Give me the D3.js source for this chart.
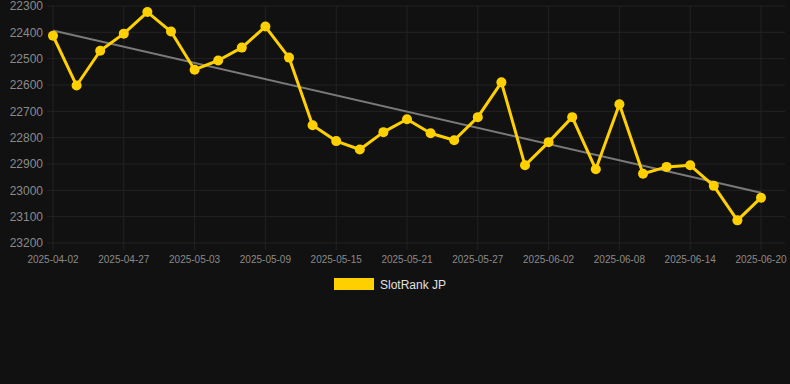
<!DOCTYPE html>
<html>
<head>
    <script src="https://d3js.org/d3.v7.min.js"></script>
    <style>
        body { margin: 0; background: #111111; }
        svg { display: block; font-family: "Liberation Sans", Arial, sans-serif; }
    </style>
</head>
<body>
    <div id="chart"></div>
    <script>
        // every other day from late April, labels shown on every 3rd point
        const dates = [
            '2025-04-02', '2025-04-23', '2025-04-25', '2025-04-27', '2025-04-29', '2025-05-01',
            '2025-05-03', '2025-05-05', '2025-05-07', '2025-05-09', '2025-05-11', '2025-05-13',
            '2025-05-15', '2025-05-17', '2025-05-19', '2025-05-21', '2025-05-23', '2025-05-25',
            '2025-05-27', '2025-05-29', '2025-05-31', '2025-06-02', '2025-06-04', '2025-06-06',
            '2025-06-08', '2025-06-10', '2025-06-12', '2025-06-14', '2025-06-16', '2025-06-18',
            '2025-06-20'
        ];
        const ranks = [
            22413, 22602, 22470, 22405, 22323, 22397, 22542, 22507, 22458, 22378, 22496,
            22753, 22813, 22845, 22779, 22730, 22783, 22810, 22722, 22590, 22905,
            22817, 22722, 22920, 22673, 22937, 22911, 22905, 22983, 23114, 23028
        ];
        const yTicks = [22300, 22400, 22500, 22600, 22700, 22800, 22900, 23000, 23100, 23200];
        const seriesName = 'SlotRank JP';

        const width = 790, height = 384;
        const plot = { left: 47, right: 785, top: 6, bottom: 243 };

        const svg = d3.select('#chart').append('svg')
            .attr('width', width)
            .attr('height', height);

        svg.append('rect').attr('width', width).attr('height', height).attr('fill', '#111111');

        const x = d3.scalePoint().domain(dates).range([53, 761]);
        const y = d3.scaleLinear().domain([22300, 23200]).range([plot.top, plot.bottom]);

        const labelDates = dates.filter((d, i) => i % 3 === 0);

        // grid
        svg.append('g').selectAll('line')
            .data(yTicks).enter().append('line')
            .attr('x1', plot.left).attr('x2', plot.right)
            .attr('y1', d => y(d)).attr('y2', d => y(d))
            .attr('stroke', '#232323').attr('stroke-width', 1);

        svg.append('g').selectAll('line')
            .data(labelDates).enter().append('line')
            .attr('x1', d => x(d)).attr('x2', d => x(d))
            .attr('y1', plot.top).attr('y2', plot.bottom + 7)
            .attr('stroke', '#232323').attr('stroke-width', 1);

        // y labels
        svg.append('g').selectAll('text')
            .data(yTicks).enter().append('text')
            .attr('x', 43).attr('y', d => y(d))
            .attr('dy', '0.35em')
            .attr('text-anchor', 'end')
            .attr('fill', '#8a8a8a')
            .style('font-size', '12px')
            .text(d => d);

        // x labels
        svg.append('g').selectAll('text')
            .data(labelDates).enter().append('text')
            .attr('x', d => x(d)).attr('y', 263)
            .attr('text-anchor', 'middle')
            .attr('fill', '#8a8a8a')
            .style('font-size', '10px')
            .text(d => d);

        // least squares trend
        const n = ranks.length;
        const mx = d3.mean(ranks, (d, i) => i);
        const my = d3.mean(ranks);
        const slope = d3.sum(ranks, (d, i) => (i - mx) * (d - my)) / d3.sum(ranks, (d, i) => (i - mx) * (i - mx));
        const trend = [0, n - 1].map(i => ({ i, v: my + slope * (i - mx) }));

        svg.append('path')
            .datum(trend)
            .attr('d', d3.line().x(d => x(dates[d.i])).y(d => y(d.v)))
            .attr('fill', 'none')
            .attr('stroke', '#7a7a7a')
            .attr('stroke-width', 2);

        const pts = ranks.map((v, i) => ({ date: dates[i], v }));

        svg.append('path')
            .datum(pts)
            .attr('d', d3.line().x(d => x(d.date)).y(d => y(d.v)))
            .attr('fill', 'none')
            .attr('stroke', '#FFD000')
            .attr('stroke-width', 3)
            .attr('stroke-linejoin', 'round');

        svg.append('g').selectAll('circle')
            .data(pts).enter().append('circle')
            .attr('cx', d => x(d.date)).attr('cy', d => y(d.v))
            .attr('r', 5)
            .attr('fill', '#FFD000');

        // legend
        svg.append('rect')
            .attr('x', 334).attr('y', 278)
            .attr('width', 40).attr('height', 12)
            .attr('fill', '#FFD000');
        svg.append('text')
            .attr('x', 380).attr('y', 288.5)
            .attr('fill', '#e0e0e0')
            .style('font-size', '12px')
            .text(seriesName);
    </script>
</body>
</html>
